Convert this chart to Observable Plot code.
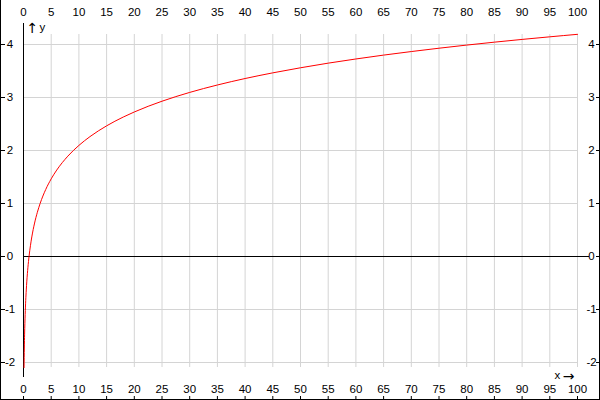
<!DOCTYPE html>
<html>
<head>
<meta charset="utf-8">
<script src="https://cdn.jsdelivr.net/npm/d3@7"></script>
<script src="https://cdn.jsdelivr.net/npm/@observablehq/plot@0.6"></script>
<style>
  html, body { margin: 0; padding: 0; background: white; }
  #wrap { position: relative; width: 600px; height: 400px; }
  #border { position: absolute; left: 0; top: 0; width: 600px; height: 400px; box-sizing: border-box;
            border-left: 1px solid black; border-right: 1px solid black; border-bottom: 1px solid black; pointer-events: none; }
</style>
</head>
<body>
<div id="wrap"><div id="border"></div></div>
<script>
// Curve values
const xs = [0.1, 0.15, 0.2, 0.3, 0.4, 0.5, 0.6, 0.8, 1, 1.25, 1.5, 2, 2.5, 3, 4, 5, 6, 7, 8, 10, 12, 15, 18, 20, 25, 30, 35, 40, 45, 50, 55, 60, 65, 70, 75, 80, 85, 90, 95, 100];
const ys = [-2.096, -1.727, -1.465, -1.096, -0.834, -0.631, -0.465, -0.203, 0, 0.203, 0.369, 0.631, 0.834, 1, 1.262, 1.465, 1.631, 1.771, 1.893, 2.096, 2.262, 2.465, 2.631, 2.727, 2.930, 3.096, 3.236, 3.358, 3.465, 3.561, 3.648, 3.727, 3.800, 3.867, 3.930, 3.989, 4.044, 4.096, 4.145, 4.192];

// Ticks
const xTicks = [0, 5, 10, 15, 20, 25, 30, 35, 40, 45, 50, 55, 60, 65, 70, 75, 80, 85, 90, 95, 100];
const yTicks = [-2, -1, 0, 1, 2, 3, 4];
const yTickLabels = ["-2", "-1", "0", "1", "2", "3", "4"];
const xGrid = [5, 10, 15, 20, 25, 30, 35, 40, 45, 50, 55, 60, 65, 70, 75, 80, 85, 90, 95, 100];
const yGrid = [-2, -1, 1, 2, 3, 4];
const xAxisName = "x";
const yAxisName = "y";
const xArrow = "\u2192";
const yArrow = "\u2191";

const points = xs.map((x, i) => ({x, y: ys[i]}));
const yLab = new Map(yTicks.map((v, i) => [v, yTickLabels[i]]));

const font = {fontSize: 11.5, fontFamily: "Liberation Sans, Arial, sans-serif", fill: "black"};
const arrowFont = {fontSize: 14, fontFamily: "DejaVu Sans, sans-serif", fill: "black"};

const chart = Plot.plot({
  width: 600,
  height: 400,
  margin: 0,
  x: {domain: [0, 100], range: [23, 577], axis: null},
  y: {domain: [-2, 4], range: [362, 44], axis: null},
  style: {background: "white", color: "black", overflow: "visible"},
  marks: [
    Plot.ruleX(xGrid, {x: d => d, stroke: "#d4d4d4", strokeOpacity: 1, insetTop: 34, insetBottom: 33}),
    Plot.ruleY(yGrid, {y: d => d, stroke: "#d4d4d4", strokeOpacity: 1, insetLeft: 23, insetRight: 22}),
    Plot.ruleY([0], {y: d => d, stroke: "black", insetLeft: 23, insetRight: 11}),
    Plot.ruleX([0], {x: d => d, stroke: "black", insetTop: 23, insetBottom: 23}),
    Plot.line(points, {x: "x", y: "y", stroke: "#ff0000", strokeWidth: 1, curve: "monotone-x"}),
    // top & bottom tick labels
    Plot.text(xTicks, {x: d => d, text: d => String(d), frameAnchor: "top", lineAnchor: "middle", dy: 11.5, ...font}),
    Plot.text(xTicks, {x: d => d, text: d => String(d), frameAnchor: "bottom", lineAnchor: "middle", dy: -11, ...font}),
    Plot.tickX(xTicks, {x: d => d, stroke: "black", insetTop: 396}),
    // left & right tick labels
    Plot.text(yTicks, {y: d => d, text: d => yLab.get(d), frameAnchor: "left", textAnchor: "middle", dx: 9.5, ...font}),
    Plot.text(yTicks, {y: d => d, text: d => yLab.get(d), frameAnchor: "right", textAnchor: "middle", dx: -9, ...font}),
    Plot.tickY(yTicks, {y: d => d, stroke: "black", insetLeft: 1, insetRight: 595}),
    Plot.tickY(yTicks, {y: d => d, stroke: "black", insetLeft: 596, insetRight: 0}),
    // axis names
    Plot.text([yArrow], {text: d => d, frameAnchor: "top-left", textAnchor: "start", lineAnchor: "bottom", dx: 26, dy: 32, ...arrowFont}),
    Plot.text([yAxisName], {text: d => d, frameAnchor: "top-left", textAnchor: "start", lineAnchor: "bottom", dx: 39, dy: 30, ...font}),
    Plot.text([xAxisName], {text: d => d, frameAnchor: "bottom-right", textAnchor: "start", lineAnchor: "bottom", dx: -46, dy: -22, ...font}),
    Plot.text([xArrow], {text: d => d, frameAnchor: "bottom-right", textAnchor: "end", lineAnchor: "bottom", dx: -26, dy: -20, ...arrowFont})
  ]
});
document.getElementById("wrap").prepend(chart);
</script>
</body>
</html>
